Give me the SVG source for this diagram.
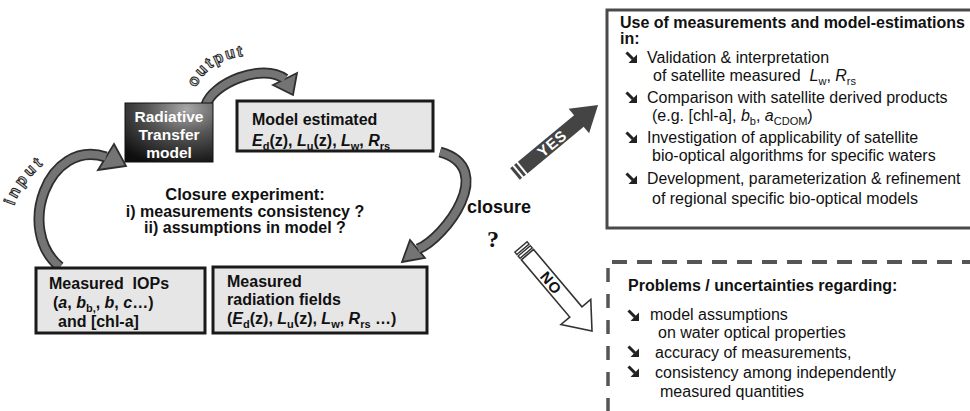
<svg xmlns="http://www.w3.org/2000/svg" width="970" height="411" viewBox="0 0 970 411">
<defs>
 <radialGradient id="rtg" cx="0.7" cy="0.1" r="1">
  <stop offset="0" stop-color="#a8a8a8"/>
  <stop offset="0.45" stop-color="#555"/>
  <stop offset="1" stop-color="#0e0e0e"/>
 </radialGradient>
 <g id="bul"><path d="M0.5 0.5 L7 7" stroke="#222" stroke-width="3" fill="none"/><path d="M11 2.5 L11 11 L2.5 11 Z" fill="#222"/></g>
</defs>
<style>
 text{font-family:"Liberation Sans",Arial,sans-serif;fill:#111}
 .b{font-weight:bold}
 .f16{font-size:16px}
 .i{font-style:italic}
 .box{fill:#e6e6e6;stroke:#1a1a1a;stroke-width:3}
 .arc-o{fill:none;stroke:#2e2e2e;stroke-width:11}
 .arc-i{fill:none;stroke:#747474;stroke-width:7.5}
 .head{fill:#747474;stroke:#2e2e2e;stroke-width:1.8}
 .curvy{font-size:16px;font-weight:bold;fill:#c8c8c8;stroke:#222;stroke-width:0.9;letter-spacing:2px}
</style>

<g id="connectors">
 <g id="arrow-input">
  <path class="arc-o" d="M60 267 C15 230,48 138,106 157"/>
  <polygon class="head" points="114,144 126,166 98,170"/>
  <path class="arc-i" d="M60 267 C15 230,48 138,106 157"/>
 </g>
 <g id="arrow-output">
  <path class="arc-o" d="M206 105 C212 84,262 62,285 79"/>
  <polygon class="head" points="273,85 297,73 293,95"/>
  <path class="arc-i" d="M206 105 C212 84,262 62,285 79"/>
 </g>
 <g id="arrow-closure">
  <path class="arc-o" d="M440 152 C498 168,445 238,418 249"/>
  <polygon class="head" points="425,258 410,240 402,262"/>
  <path class="arc-i" d="M440 152 C498 168,445 238,418 249"/>
 </g>
 <g id="arrow-yes" transform="translate(515,174) rotate(-39.7)">
  <rect x="0" y="-7.5" width="3" height="15" fill="#444"/>
  <rect x="5" y="-7.5" width="3" height="15" fill="#444"/>
  <rect x="10" y="-7.5" width="75" height="15" fill="#444"/>
  <polygon points="83,-16 108,0 83,16" fill="#444"/>
  <text x="48" y="5.5" text-anchor="middle" class="b" style="font-size:15px;fill:#fff;letter-spacing:1px">YES</text>
 </g>
 <g id="arrow-no" transform="translate(521,247) rotate(49.8)">
  <rect x="0" y="-8" width="3" height="16" fill="#fff" stroke="#333" stroke-width="1.4"/>
  <rect x="5" y="-8" width="3" height="16" fill="#fff" stroke="#333" stroke-width="1.4"/>
  <polygon points="10,-8 85,-8 85,-19.5 110,0 85,19.5 85,8 10,8" fill="#fff" stroke="#333" stroke-width="1.6"/>
  <text x="47" y="5.5" text-anchor="middle" class="b" style="font-size:15px;letter-spacing:1px">NO</text>
 </g>
 <path id="p-in" d="M14 206 Q24 174,64 150" fill="none"/>
 <text class="curvy" style="letter-spacing:3px"><textPath href="#p-in">input</textPath></text>
 <path id="p-out" d="M196 88 Q212 50,276 56" fill="none"/>
 <text class="curvy"><textPath href="#p-out">output</textPath></text>
</g>

<g id="node-rt">
 <rect x="125" y="103" width="88" height="59" fill="url(#rtg)" stroke="#111" stroke-width="1"/>
 <text x="169" y="122" text-anchor="middle" class="b" style="font-size:15.5px;fill:#fff">Radiative</text>
 <text x="169" y="140" text-anchor="middle" class="b" style="font-size:15.5px;fill:#fff">Transfer</text>
 <text x="169" y="158" text-anchor="middle" class="b" style="font-size:15.5px;fill:#fff">model</text>
</g>

<g id="node-model">
 <rect class="box" x="237" y="101" width="196" height="50"/>
 <text x="252" y="125" class="b f16">Model estimated</text>
 <text x="252" y="146" class="b f16"><tspan class="i">E</tspan><tspan dy="4" font-size="11">d</tspan><tspan dy="-4">(z), </tspan><tspan class="i">L</tspan><tspan dy="4" font-size="11">u</tspan><tspan dy="-4">(z), </tspan><tspan class="i">L</tspan><tspan dy="4" font-size="11">w</tspan><tspan dy="-4">, </tspan><tspan class="i">R</tspan><tspan dy="4" font-size="11">rs</tspan></text>
</g>

<g id="node-iops">
 <rect class="box" x="36" y="268" width="169" height="65"/>
 <text x="49" y="289" class="b f16" xml:space="preserve">Measured  IOPs</text>
 <text x="53" y="308" class="b f16">(<tspan class="i">a</tspan>, <tspan class="i">b</tspan><tspan dy="4" font-size="11">b,</tspan><tspan dy="-4">, </tspan><tspan class="i">b</tspan>, <tspan class="i">c</tspan>…)</text>
 <text x="58" y="327" class="b f16">and [chl-a]</text>
</g>

<g id="node-radiation">
 <rect class="box" x="213" y="267" width="214" height="66"/>
 <text x="227" y="287" class="b f16">Measured</text>
 <text x="227" y="305" class="b f16">radiation fields</text>
 <text x="227" y="324" class="b f16">(<tspan class="i">E</tspan><tspan dy="4" font-size="11">d</tspan><tspan dy="-4">(z), </tspan><tspan class="i">L</tspan><tspan dy="4" font-size="11">u</tspan><tspan dy="-4">(z), </tspan><tspan class="i">L</tspan><tspan dy="4" font-size="11">w</tspan><tspan dy="-4">, </tspan><tspan class="i">R</tspan><tspan dy="4" font-size="11">rs</tspan><tspan dy="-4"> …)</tspan></text>
</g>

<g id="node-closure-experiment">
 <text x="245" y="200" text-anchor="middle" class="b" style="font-size:16.5px">Closure experiment:</text>
 <text x="245" y="217" text-anchor="middle" class="b" style="font-size:16px">i) measurements consistency ?</text>
 <text x="245" y="233" text-anchor="middle" class="b" style="font-size:16px">ii) assumptions in model ?</text>
</g>

<g id="node-closure">
 <text x="467" y="213" class="b" style="font-size:18px">closure</text>
 <text x="493" y="247" text-anchor="middle" style="font-family:'Liberation Serif',serif;font-weight:bold;font-size:24px">?</text>
</g>

<g id="node-use">
 <rect x="607" y="10" width="370" height="218" fill="#fff" stroke="#4a4a4a" stroke-width="3"/>
 <text x="620" y="28" class="b f16">Use of measurements and model-estimations</text>
 <text x="620" y="44" class="b f16">in:</text>
 <use href="#bul" x="626" y="52"/>
 <text x="647" y="63" class="f16">Validation &amp; interpretation</text>
 <text x="653" y="81" class="f16" xml:space="preserve">of satellite measured  <tspan class="i">L</tspan><tspan dy="4" font-size="11">w</tspan><tspan dy="-4">, </tspan><tspan class="i">R</tspan><tspan dy="4" font-size="11">rs</tspan></text>
 <use href="#bul" x="626" y="92"/>
 <text x="647" y="103" class="f16">Comparison with satellite derived products</text>
 <text x="652" y="121" class="f16">(e.g. [chl-a], <tspan class="i">b</tspan><tspan dy="4" font-size="11">b</tspan><tspan dy="-4">, </tspan><tspan class="i">a</tspan><tspan dy="4" font-size="11">CDOM</tspan><tspan dy="-4">)</tspan></text>
 <use href="#bul" x="626" y="132"/>
 <text x="647" y="143" class="f16">Investigation of applicability of satellite</text>
 <text x="652" y="161" class="f16">bio-optical algorithms for specific waters</text>
 <use href="#bul" x="626" y="173"/>
 <text x="647" y="184" style="font-size:15.8px">Development, parameterization &amp; refinement</text>
 <text x="652" y="204" class="f16">of regional specific bio-optical models</text>
</g>

<g id="node-problems">
 <path d="M612 262 H975" stroke="#555" stroke-width="4" stroke-dasharray="15 10" fill="none"/>
 <path d="M608 268 V411" stroke="#555" stroke-width="3.5" stroke-dasharray="14 12" fill="none"/>
 <text x="628" y="291" class="b f16">Problems / uncertainties regarding:</text>
 <use href="#bul" x="628" y="310"/>
 <text x="650" y="320" class="f16">model assumptions</text>
 <text x="658" y="338" class="f16">on water optical properties</text>
 <use href="#bul" x="628" y="346"/>
 <text x="655" y="358" class="f16">accuracy of measurements,</text>
 <use href="#bul" x="628" y="366"/>
 <text x="655" y="378" class="f16">consistency among independently</text>
 <text x="660" y="397" class="f16">measured quantities</text>
</g>
</svg>
